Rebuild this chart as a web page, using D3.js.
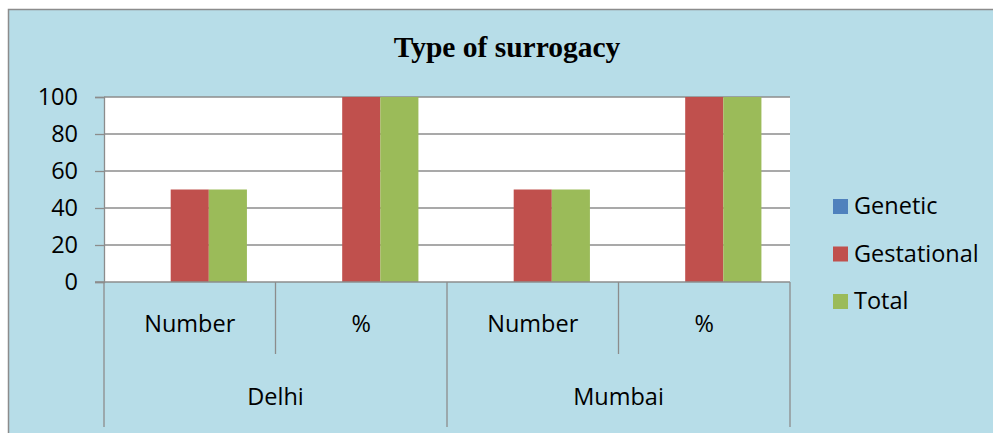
<!DOCTYPE html>
<html>
<head>
<meta charset="utf-8">
<script src="https://cdn.jsdelivr.net/npm/d3@7"></script>
<style>
  html, body { margin: 0; padding: 0; background: #fff; }
  svg { display: block; }
</style>
</head>
<body>
<svg id="chart"></svg>
<script>
// Data
const cities   = ['Delhi', 'Mumbai'];
const measures = ['Number', '%'];
const seriesNames = ['Genetic', 'Gestational', 'Total'];
const genetic     = [0, 0, 0, 0];
const gestational = [50, 100, 50, 100];
const total       = [50, 100, 50, 100];
const yTicks = [0, 20, 40, 60, 80, 100];

const COLORS = { Genetic: '#4f81bd', Gestational: '#c0504d', Total: '#9bbb59' };
const W = 993, H = 433;
const plot = { x0: 104, x1: 790, y0: 97, y1: 282 };
const FONT = '"Open Sans", "Noto Sans", sans-serif';
const FS = 23.5;

const svg = d3.select('#chart').attr('width', W).attr('height', H);

// chart background + border
svg.append('rect')
  .attr('x', 8.5).attr('y', 9.5).attr('width', W + 10).attr('height', H + 10)
  .attr('fill', '#b7dde8').attr('stroke', '#8c8c8c').attr('stroke-width', 1.5);

svg.append('text')
  .attr('x', 507).attr('y', 57)
  .attr('text-anchor', 'middle')
  .attr('font-family', '"Liberation Serif", "Times New Roman", serif')
  .attr('font-weight', 'bold').attr('font-size', 29.5)
  .text('Type of surrogacy');

// categories: city × measure
const cats = [];
cities.forEach(c => measures.forEach(m => cats.push({ city: c, measure: m, key: c + '|' + m })));

const series = seriesNames.map((name, i) => ({ name, values: [genetic, gestational, total][i] }));

const x0 = d3.scaleBand().domain(cats.map(d => d.key)).range([plot.x0, plot.x1]);
const x1 = d3.scaleBand().domain(seriesNames).range([0, x0.bandwidth()]).paddingOuter(0.75);
const y = d3.scaleLinear().domain([0, 100]).range([plot.y1, plot.y0]);

svg.append('rect')
  .attr('x', plot.x0).attr('y', plot.y0)
  .attr('width', plot.x1 - plot.x0).attr('height', plot.y1 - plot.y0)
  .attr('fill', '#fff');

// gridlines
svg.append('g')
  .selectAll('line').data(yTicks.filter(t => t > 0)).join('line')
  .attr('x1', plot.x0).attr('x2', plot.x1)
  .attr('y1', d => y(d)).attr('y2', d => y(d))
  .attr('stroke', '#8c8c8c').attr('stroke-width', 1.3);

// bars
svg.append('g')
  .selectAll('g').data(series).join('g')
  .attr('fill', d => COLORS[d.name])
  .selectAll('rect').data(s => s.values.map((v, i) => ({ name: s.name, v, cat: cats[i] }))).join('rect')
  .attr('x', d => x0(d.cat.key) + x1(d.name))
  .attr('width', x1.bandwidth())
  .attr('y', d => y(d.v))
  .attr('height', d => y(0) - y(d.v));

// y axis
const yAxis = svg.append('g')
  .attr('transform', `translate(${plot.x0},0)`)
  .call(d3.axisLeft(y).tickValues(yTicks).tickSize(9).tickPadding(17));
yAxis.select('.domain').attr('stroke', '#8c8c8c').attr('stroke-width', 1.3);
yAxis.selectAll('.tick line').attr('stroke', '#8c8c8c').attr('stroke-width', 1.3);
yAxis.selectAll('.tick text')
  .attr('font-family', FONT).attr('font-size', FS).attr('fill', '#000');

// baseline
svg.append('line')
  .attr('x1', plot.x0 - 9).attr('x2', plot.x1)
  .attr('y1', y(0)).attr('y2', y(0))
  .attr('stroke', '#8c8c8c').attr('stroke-width', 1.3);

// multi-level category axis
const axisG = svg.append('g').attr('stroke', '#8c8c8c').attr('stroke-width', 1.3);
cats.forEach((c, i) => {
  const xl = x0(c.key);
  const outer = i % measures.length === 0;
  axisG.append('line')
    .attr('x1', xl).attr('x2', xl)
    .attr('y1', y(0)).attr('y2', outer ? 427 : 354);
});
axisG.append('line')
  .attr('x1', plot.x1).attr('x2', plot.x1)
  .attr('y1', y(0)).attr('y2', 427);

svg.append('g')
  .selectAll('text').data(cats).join('text')
  .attr('x', d => x0(d.key) + x0.bandwidth() / 2)
  .attr('y', 332)
  .attr('text-anchor', 'middle')
  .attr('font-family', FONT).attr('font-size', FS)
  .text(d => d.measure);

svg.append('g')
  .selectAll('text').data(cities).join('text')
  .attr('x', c => x0(c + '|' + measures[0]) + x0.bandwidth())
  .attr('y', 405)
  .attr('text-anchor', 'middle')
  .attr('font-family', FONT).attr('font-size', FS)
  .text(c => c);

// legend
const legend = svg.append('g')
  .selectAll('g').data(seriesNames).join('g')
  .attr('transform', (d, i) => `translate(833, ${199 + i * 47.5})`);
legend.append('rect')
  .attr('width', 15).attr('height', 15)
  .attr('fill', d => COLORS[d]);
legend.append('text')
  .attr('x', 21).attr('y', 15)
  .attr('font-family', FONT).attr('font-size', FS)
  .text(d => d);
</script>
</body>
</html>
